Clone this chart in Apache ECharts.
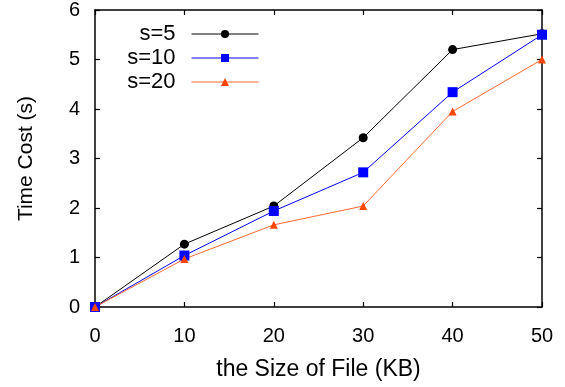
<!DOCTYPE html>
<html>
<head>
<meta charset="utf-8">
<script src="https://cdn.jsdelivr.net/npm/echarts@6/dist/echarts.min.js"></script>
<style>html,body{margin:0;padding:0;background:#fff}#c{width:565px;height:387px}</style>
</head>
<body>
<div id="c"></div>
<script>
const sizes = [0, 10, 20, 30, 40, 50];
const s5 = [0, 1.27, 2.04, 3.42, 5.2, 5.52];
const s10 = [0, 1.04, 1.94, 2.72, 4.34, 5.5];
const s20 = [0, 0.97, 1.66, 2.04, 3.95, 5.0];

const font = 'Liberation Sans, Arial, sans-serif';
const pairs = arr => sizes.map((x, i) => [x, arr[i]]);

const chart = echarts.init(document.getElementById('c'));
const axisLine = { show: true, onZero: false, lineStyle: { color: '#000', width: 1.5 } };
const tickIn = { show: true, inside: true, length: 5, lineStyle: { color: '#000', width: 1.2 } };
chart.setOption({
    animation: false,
    grid: { left: 95, right: 23, top: 7, bottom: 80 },
    legend: {
        right: 301, top: 18, orient: 'vertical', align: 'right',
        itemWidth: 67, itemHeight: 10, itemGap: 2,
        lineStyle: { width: 1 },
        textStyle: { fontFamily: font, fontSize: 22, lineHeight: 20, color: '#000', padding: [0, 11, 0, 0] },
        data: ['s=5', 's=10', 's=20']
    },
    xAxis: [{
        type: 'value', min: 0, max: 50, interval: 10,
        name: 'the Size of File (KB)', nameLocation: 'middle', nameGap: 51,
        nameTextStyle: { fontFamily: font, fontSize: 23, color: '#000' },
        axisLine: axisLine, axisTick: tickIn, splitLine: { show: false },
        axisLabel: { fontFamily: font, fontSize: 20, color: '#000', margin: 19 }
    }, {
        type: 'value', position: 'top', min: 0, max: 50, interval: 10,
        axisLine: axisLine, axisTick: tickIn, splitLine: { show: false }, axisLabel: { show: false }
    }],
    yAxis: [{
        type: 'value', min: 0, max: 6, interval: 1,
        name: 'Time Cost (s)', nameLocation: 'middle', nameGap: 58,
        nameTextStyle: { fontFamily: font, fontSize: 21, color: '#000' },
        axisLine: axisLine, axisTick: tickIn, splitLine: { show: false },
        axisLabel: { fontFamily: font, fontSize: 20, color: '#000', margin: 15 }
    }, {
        type: 'value', position: 'right', min: 0, max: 6, interval: 1,
        axisLine: axisLine, axisTick: tickIn, splitLine: { show: false }, axisLabel: { show: false }
    }],
    series: [
        { name: 's=5', type: 'line', data: pairs(s5), symbol: 'circle', symbolSize: 9,
          lineStyle: { color: '#000', width: 1 }, itemStyle: { color: '#000' } },
        { name: 's=10', type: 'line', data: pairs(s10), symbol: 'rect', symbolSize: 10,
          lineStyle: { color: '#0000ff', width: 1 }, itemStyle: { color: '#0000ff' } },
        { name: 's=20', type: 'line', data: pairs(s20), symbol: 'triangle', symbolSize: 8,
          lineStyle: { color: '#ff6a30', width: 1 }, itemStyle: { color: '#ff4500' } }
    ]
});
</script>
</body>
</html>
